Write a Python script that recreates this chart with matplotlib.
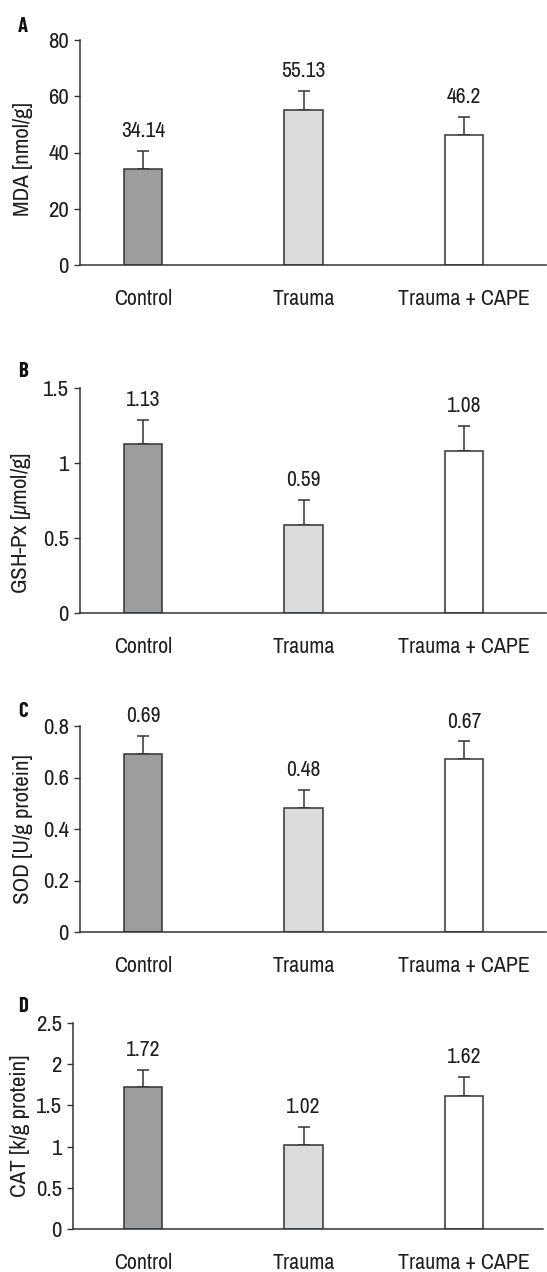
import matplotlib
matplotlib.use("Agg")
import matplotlib.pyplot as plt
from matplotlib.ticker import FuncFormatter

FAMILY = ['Archivo Narrow', 'Liberation Sans', 'DejaVu Sans']
BOLD_FAMILY = ['Barlow Condensed', 'Liberation Sans', 'DejaVu Sans']
plt.rcParams['font.family'] = FAMILY
plt.rcParams['mathtext.fontset'] = 'custom'
plt.rcParams['mathtext.it'] = 'Archivo Narrow:italic'
plt.rcParams['mathtext.rm'] = 'Archivo Narrow'

categories = ["Control", "Trauma", "Trauma + CAPE"]
colors = ["#9c9d9f", "#dadbdd", "#ffffff"]

panel_letters = ["A", "B", "C", "D"]
ylabels = ["MDA [nmol/g]", r"GSH-Px [$\mu$mol/g]", "SOD [U/g protein]", "CAT [k/g protein]"]

mda = [34.14, 55.13, 46.2]
mda_sd = [6.3, 6.6, 6.5]
gsh = [1.13, 0.59, 1.08]
gsh_sd = [0.16, 0.165, 0.165]
sod = [0.69, 0.48, 0.67]
sod_sd = [0.07, 0.07, 0.07]
cat = [1.72, 1.02, 1.62]
cat_sd = [0.21, 0.22, 0.23]

yticks_a = [0, 20, 40, 60, 80]
yticks_b = [0, 0.5, 1, 1.5]
yticks_c = [0, 0.2, 0.4, 0.6, 0.8]
yticks_d = [0, 0.5, 1, 1.5, 2, 2.5]

values = [mda, gsh, sod, cat]
sds = [mda_sd, gsh_sd, sod_sd, cat_sd]
ytick_sets = [yticks_a, yticks_b, yticks_c, yticks_d]

W, H = 547, 1272
fig = plt.figure(figsize=(W / 100, H / 100), dpi=100)

# pixel geometry: (left, right, top, bottom)
boxes = [(80, 546, 40, 265), (80, 546, 388, 613), (80, 546, 726, 932), (73, 543, 1023, 1229)]
letter_pos = [(18, 32), (18, 377), (18, 717), (18, 1012)]
ylabel_y = [0.47, 0.40, 0.5, 0.5]
ylabel_right = [33, 33, 33, 30]

edge = "#333333"
txt = "#1e1e1e"
center0, spacing = 143, 160.5

for i in range(4):
    l, r, t, b = boxes[i]
    ax = fig.add_axes([l / W, 1 - b / H, (r - l) / W, (b - t) / H])
    x = list(range(len(categories)))
    ax.bar(x, values[i], width=0.237, color=colors, edgecolor=edge, linewidth=1.1, zorder=2)
    ax.errorbar(x, values[i], yerr=[[0] * 3, sds[i]], fmt='none', ecolor=edge,
                elinewidth=1.1, capsize=4.5, capthick=1.1, zorder=1)
    for xi, v, s in zip(x, values[i], sds[i]):
        ax.annotate(f"{v:g}", (xi, v + s), xytext=(0, 10), textcoords='offset points',
                    ha='center', va='baseline', fontsize=15.5, color=txt)
    ax.set_xlim(-(center0 - l) / spacing, 2 + (r - (center0 + 2 * spacing)) / spacing)
    ticks = ytick_sets[i]
    ax.set_ylim(0, ticks[-1])
    ax.set_yticks(ticks)
    ax.yaxis.set_major_formatter(FuncFormatter(lambda v, p: f"{v:g}"))
    ax.set_xticks(x)
    ax.set_xticklabels(categories)
    ax.tick_params(axis='x', length=0, pad=17, labelsize=15.8, labelcolor=txt)
    ax.tick_params(axis='y', length=4, width=1.0, pad=4, labelsize=16.5, color=edge,
                   labelcolor=txt, direction='out')
    for sp in ['top', 'right']:
        ax.spines[sp].set_visible(False)
    for sp in ['left', 'bottom']:
        ax.spines[sp].set_color(edge)
        ax.spines[sp].set_linewidth(1.1)
    ax.set_ylabel(ylabels[i], fontsize=16.5, color=txt)
    ax.yaxis.set_label_coords(-(l - ylabel_right[i]) / (r - l), ylabel_y[i])
    fig.text(letter_pos[i][0] / W, 1 - letter_pos[i][1] / H, panel_letters[i],
             fontsize=15, fontweight='bold', family=BOLD_FAMILY,
             ha='left', va='baseline', color='#111111')

fig.savefig("out.png", dpi=100)
